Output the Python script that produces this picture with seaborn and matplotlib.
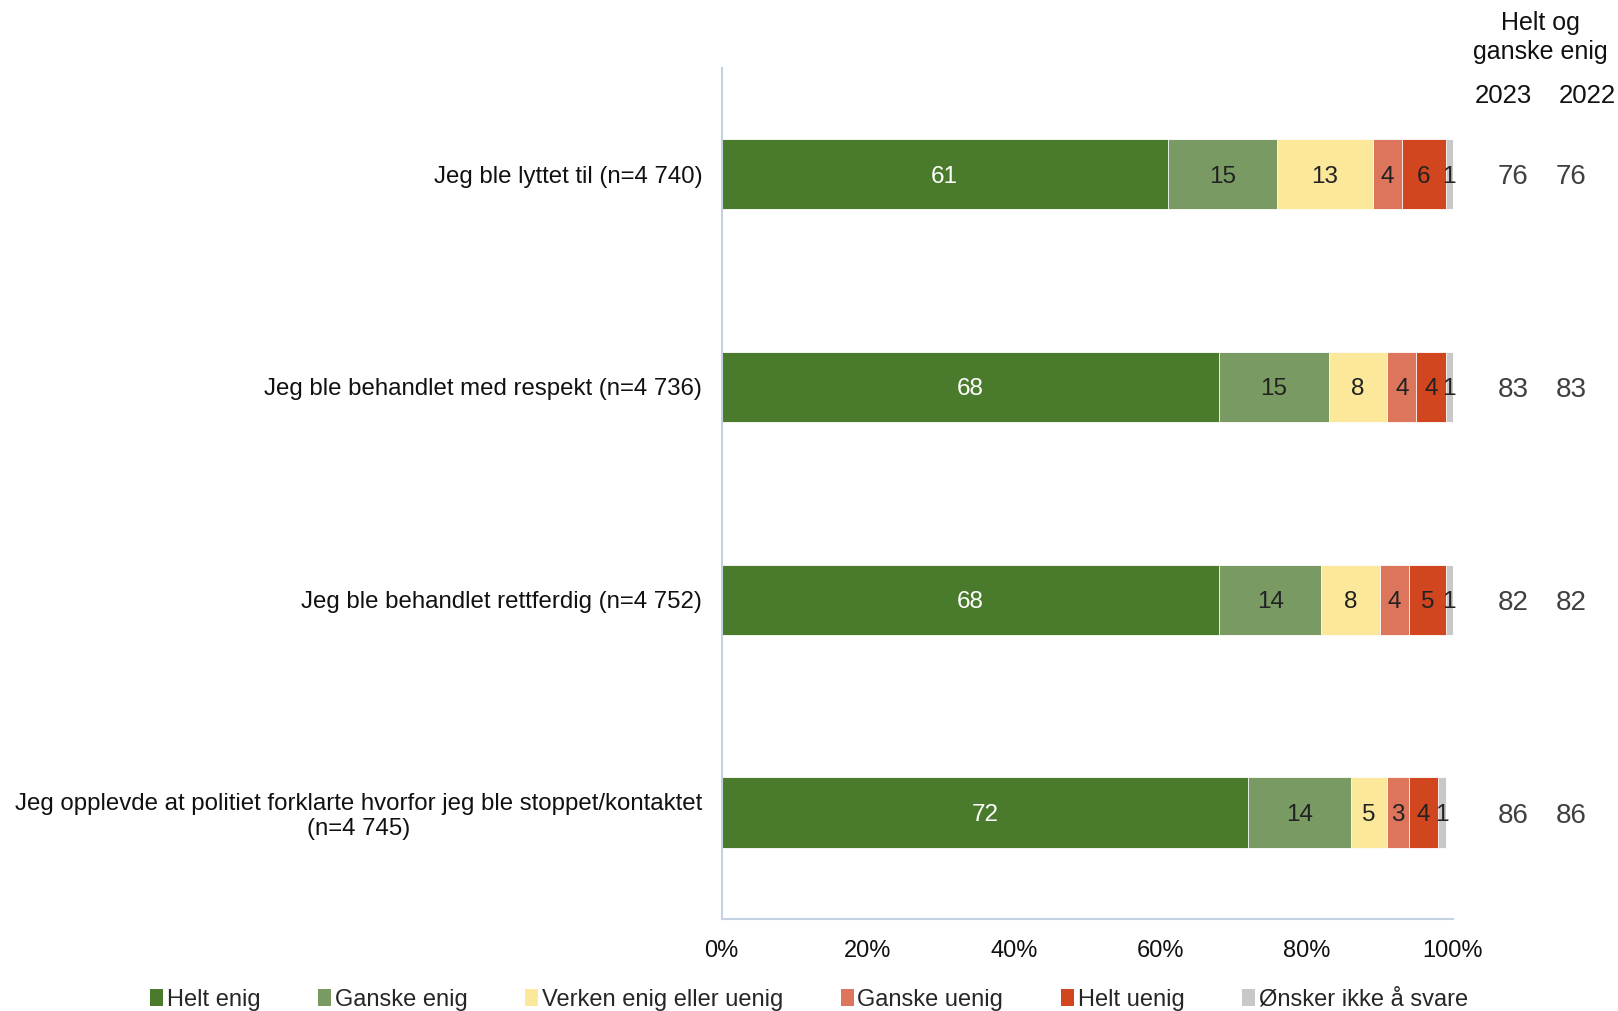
import numpy as np
import pandas as pd
import matplotlib
matplotlib.use("Agg")
import matplotlib.pyplot as plt
from matplotlib import font_manager
from matplotlib.patches import Patch
import seaborn as sns

categories = [
    "Jeg ble lyttet til (n=4 740)",
    "Jeg ble behandlet med respekt (n=4 736)",
    "Jeg ble behandlet rettferdig (n=4 752)",
    "Jeg opplevde at politiet forklarte hvorfor jeg ble stoppet/kontaktet\n(n=4 745)",
]
series_names = ["Helt enig", "Ganske enig", "Verken enig eller uenig",
                "Ganske uenig", "Helt uenig", "Ønsker ikke å svare"]
helt_enig = [61, 68, 68, 72]
ganske_enig = [15, 15, 14, 14]
verken = [13, 8, 8, 5]
ganske_uenig = [4, 4, 4, 3]
helt_uenig = [6, 4, 5, 4]
onsker_ikke = [1, 1, 1, 1]
total_2023 = [76, 83, 82, 86]
total_2022 = [76, 83, 82, 86]
xticks = [0, 20, 40, 60, 80, 100]
xtick_labels = ["0%", "20%", "40%", "60%", "80%", "100%"]

colors = ["#4a7a2b", "#7a9a63", "#fbe89b", "#dd745c", "#d1461f", "#c8c8c8"]
text_colors = ["white", "#222222", "#222222", "#222222", "#222222", "#222222"]

sns.set_theme(style="white")
names = {f.name for f in font_manager.fontManager.ttflist}
base_font = "Liberation Sans" if "Liberation Sans" in names else "DejaVu Sans"
plt.rcParams["font.family"] = [base_font, "DejaVu Sans"]

values = [helt_enig, ganske_enig, verken, ganske_uenig, helt_uenig, onsker_ikke]
rows = []
for i, cat in enumerate(categories):
    for s, name in enumerate(series_names):
        rows.append({"cat": cat, "series": name, "value": values[s][i]})
df = pd.DataFrame(rows)
df["left"] = df.groupby("cat", sort=False)["value"].cumsum() - df["value"]
df["cum"] = df["left"] + df["value"]

fig = plt.figure(figsize=(16.18, 10.11), dpi=100)
ax = fig.add_axes([0.446, 0.091, 0.452, 0.842])

# stacked bars: draw cumulative totals from the outermost layer inward
for s in reversed(range(len(series_names))):
    sub = df[df["series"] == series_names[s]]
    sns.barplot(data=sub, x="cum", y="cat", order=categories, orient="h",
                color=colors[s], saturation=1, width=0.33, ax=ax,
                edgecolor="white", linewidth=0.6, errorbar=None)

for _, r in df.iterrows():
    i = categories.index(r["cat"])
    s = series_names.index(r["series"])
    ax.text(r["left"] + r["value"] / 2, i, f"{r['value']}", ha="center", va="center_baseline",
            fontsize=17.5, color=text_colors[s])

ax.set_xlim(0, 100)
ax.set_ylim(3.5, -0.5)
ax.set_xticks(xticks)
ax.set_xticklabels(xtick_labels, fontsize=17, color="#111111")
ax.tick_params(axis="x", length=0, pad=15)
ax.set_yticks(range(len(categories)))
ax.set_yticklabels(categories, fontsize=17.3, color="#111111", multialignment="center")
ax.tick_params(axis="y", length=0, pad=14)
ax.set_xlabel("")
ax.set_ylabel("")
for side in ["top", "right"]:
    ax.spines[side].set_visible(False)
for side in ["left", "bottom"]:
    ax.spines[side].set_color("#c3d1e2")
    ax.spines[side].set_linewidth(1.5)

# right side columns
tr = ax.get_yaxis_transform()
x23 = (1513 / 1618 - 0.446) / 0.452
x22 = (1571 / 1618 - 0.446) / 0.452
for i in range(len(categories)):
    ax.text(x23, i, str(total_2023[i]), transform=tr, ha="center", va="center_baseline",
            fontsize=20, color="#404040", clip_on=False)
    ax.text(x22, i, str(total_2022[i]), transform=tr, ha="center", va="center_baseline",
            fontsize=20, color="#404040", clip_on=False)
fig.text(1540 / 1618, 1 - 23 / 1011, "Helt og", ha="center", va="center", fontsize=18, color="#111111")
fig.text(1540 / 1618, 1 - 52 / 1011, "ganske enig", ha="center", va="center", fontsize=18, color="#111111")
fig.text(1503 / 1618, 1 - 96 / 1011, "2023", ha="center", va="center", fontsize=18.5, color="#111111")
fig.text(1587 / 1618, 1 - 96 / 1011, "2022", ha="center", va="center", fontsize=18.5, color="#111111")

# legend
handles = [Patch(facecolor=c, edgecolor="none") for c in colors]
leg = fig.legend(handles, series_names, loc="center", bbox_to_anchor=(0.5, 1 - 1000 / 1011),
                 ncol=6, frameon=False, handlelength=0.55, handleheight=0.75, handletextpad=0.15,
                 columnspacing=2.45, prop={"size": 17})

fig.savefig("out.png", dpi=100, facecolor="white")
